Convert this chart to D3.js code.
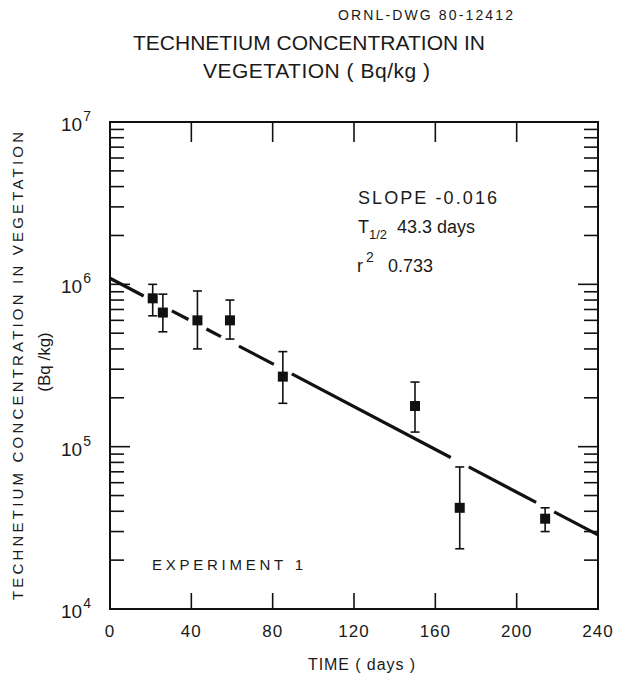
<!DOCTYPE html>
<html>
<head>
<meta charset="utf-8">
<script src="https://cdn.jsdelivr.net/npm/d3@7"></script>
<style>
  body { margin: 0; background: #fff; }
  text { font-family: "Liberation Sans", Arial, sans-serif; fill: #1a1a1a; }
</style>
</head>
<body>
<div id="chart"></div>
<script>
// measured points (days, Bq/kg) with error bar limits
const days = [21, 26, 43, 59, 85, 150, 172, 214];
const conc = [8.2e5, 6.7e5, 6.0e5, 6.0e5, 2.7e5, 1.78e5, 4.2e4, 3.6e4];
const errHigh = [1.0e6, 8.7e5, 9.1e5, 8.0e5, 3.85e5, 2.5e5, 7.5e4, 4.2e4];
const errLow = [6.4e5, 5.1e5, 4.0e5, 4.6e5, 1.85e5, 1.23e5, 2.35e4, 3.0e4];

// fitted line end points
const fitDays = [0, 240];
const fitConc = [1.09e6, 2.86e4];

const xTicks = [0, 40, 80, 120, 160, 200, 240];
const yDecades = [4, 5, 6, 7];

const width = 619, height = 678;
const marginLeft = 110, marginRight = 21, marginTop = 122, marginBottom = 69;

const svg = d3.select("#chart").append("svg")
    .attr("width", width)
    .attr("height", height)
    .attr("viewBox", [0, 0, width, height]);

const x = d3.scaleLinear([0, 240], [marginLeft, width - marginRight]);
const y = d3.scaleLog([1e4, 1e7], [height - marginBottom, marginTop]);

const minor = y.ticks().filter(v => Math.abs(Math.log10(v) % 1) > 1e-6);
const major = yDecades.map(e => Math.pow(10, e));

// frame
svg.append("rect")
    .attr("x", x(0)).attr("y", y(1e7))
    .attr("width", x(240) - x(0)).attr("height", y(1e4) - y(1e7))
    .attr("fill", "none").attr("stroke", "#111").attr("stroke-width", 2);

// left & right y ticks (inward)
const ticksG = svg.append("g").attr("stroke", "#111").attr("stroke-width", 1.6);
[[x(0), 1], [x(240), -1]].forEach(([x0, dir]) => {
  ticksG.selectAll(null)
    .data(minor)
    .join("line")
    .attr("x1", x0).attr("x2", x0 + dir * 14)
    .attr("y1", d => y(d)).attr("y2", d => y(d));
  ticksG.selectAll(null)
    .data([1e5, 1e6])
    .join("line")
    .attr("x1", x0).attr("x2", x0 + dir * 20)
    .attr("y1", d => y(d)).attr("y2", d => y(d));
});

// bottom (up) and top (down) x ticks
const inner = xTicks.slice(1, -1);
ticksG.selectAll(null).data(inner).join("line")
    .attr("x1", d => x(d)).attr("x2", d => x(d))
    .attr("y1", y(1e4)).attr("y2", y(1e4) - 16);
ticksG.selectAll(null).data(inner).join("line")
    .attr("x1", d => x(d)).attr("x2", d => x(d))
    .attr("y1", y(1e7)).attr("y2", y(1e7) + 20);

// x tick labels
svg.append("g")
  .selectAll("text")
  .data(xTicks)
  .join("text")
    .attr("x", d => x(d))
    .attr("y", 637)
    .attr("text-anchor", "middle")
    .attr("font-size", 17)
    .attr("letter-spacing", 1)
    .text(d => d);

// y tick labels 10^n
const yl = svg.append("g")
  .selectAll("text")
  .data(major)
  .join("text")
    .attr("x", 61)
    .attr("y", d => y(d) + 9)
    .attr("font-size", 19);
yl.append("tspan").text("10");
yl.append("tspan")
    .attr("dy", -10)
    .attr("dx", 1)
    .attr("font-size", 14)
    .text(d => Math.round(Math.log10(d)));

// fitted line, broken where it crosses the error bars
const fx0 = x(fitDays[0]), fy0 = y(fitConc[0]), fx1 = x(fitDays[1]), fy1 = y(fitConc[1]);
const lineY = px => fy0 + (px - fx0) * (fy1 - fy0) / (fx1 - fx0);
const gaps = [];
days.forEach((d, i) => {
  const px = x(d), ly = lineY(px);
  if (ly >= y(errHigh[i]) - 5.5 && ly <= y(errLow[i]) + 5.5) gaps.push([px - 9, px + 9]);
});
const segs = [];
let start = fx0;
gaps.sort((a, b) => a[0] - b[0]).forEach(([a, b]) => {
  if (a > start) segs.push([start, a]);
  start = Math.max(start, b);
});
if (start < fx1) segs.push([start, fx1]);

svg.append("g")
  .selectAll("line")
  .data(segs)
  .join("line")
    .attr("x1", d => d[0]).attr("y1", d => lineY(d[0]))
    .attr("x2", d => d[1]).attr("y2", d => lineY(d[1]))
    .attr("stroke", "#111")
    .attr("stroke-width", 3.2);

// error bars
const eb = svg.append("g").attr("stroke", "#111").attr("stroke-width", 1.6);
eb.selectAll(null).data(days).join("line")
    .attr("x1", d => x(d)).attr("x2", d => x(d))
    .attr("y1", (d, i) => y(errHigh[i])).attr("y2", (d, i) => y(errLow[i]));
eb.selectAll(null).data(days).join("line")
    .attr("x1", d => x(d) - 4.5).attr("x2", d => x(d) + 4.5)
    .attr("y1", (d, i) => y(errHigh[i])).attr("y2", (d, i) => y(errHigh[i]));
eb.selectAll(null).data(days).join("line")
    .attr("x1", d => x(d) - 4.5).attr("x2", d => x(d) + 4.5)
    .attr("y1", (d, i) => y(errLow[i])).attr("y2", (d, i) => y(errLow[i]));

// markers
svg.append("g")
  .selectAll("rect")
  .data(days)
  .join("rect")
    .attr("x", d => x(d) - 5)
    .attr("y", (d, i) => y(conc[i]) - 5)
    .attr("width", 10)
    .attr("height", 10)
    .attr("fill", "#111");

// titles
svg.append("text")
    .attr("x", 338).attr("y", 20)
    .attr("font-size", 14)
    .attr("textLength", 175).attr("lengthAdjust", "spacing")
    .text("ORNL-DWG 80-12412");
svg.append("text")
    .attr("x", 133).attr("y", 50)
    .attr("font-size", 21)
    .attr("textLength", 352).attr("lengthAdjust", "spacing")
    .text("TECHNETIUM CONCENTRATION IN");
svg.append("text")
    .attr("x", 203).attr("y", 78)
    .attr("font-size", 21)
    .attr("textLength", 227).attr("lengthAdjust", "spacing")
    .text("VEGETATION ( Bq/kg )");

// y axis title
svg.append("text")
    .attr("transform", "translate(23,600) rotate(-90)")
    .attr("font-size", 15)
    .attr("textLength", 468).attr("lengthAdjust", "spacing")
    .text("TECHNETIUM CONCENTRATION IN VEGETATION");
svg.append("text")
    .attr("transform", "translate(50,362) rotate(-90)")
    .attr("text-anchor", "middle")
    .attr("font-size", 17)
    .text("(Bq /kg)");

// x axis title
svg.append("text")
    .attr("x", 308).attr("y", 670)
    .attr("font-size", 16)
    .attr("textLength", 107).attr("lengthAdjust", "spacing")
    .text("TIME ( days )");

// annotations
svg.append("text")
    .attr("x", 358).attr("y", 204)
    .attr("font-size", 18)
    .attr("textLength", 139).attr("lengthAdjust", "spacing")
    .text("SLOPE -0.016");
const t = svg.append("text").attr("x", 358).attr("y", 233).attr("font-size", 18);
t.append("tspan").text("T");
t.append("tspan").attr("dy", 6).attr("font-size", 13).text("1/2");
t.append("tspan").attr("x", 397).attr("dy", -6).text("43.3 days");
const r = svg.append("text").attr("x", 357).attr("y", 272).attr("font-size", 18);
r.append("tspan").text("r");
r.append("tspan").attr("dy", -10).attr("dx", 3).attr("font-size", 14).text("2");
r.append("tspan").attr("x", 388).attr("dy", 10).text("0.733");

svg.append("text")
    .attr("x", 152).attr("y", 570)
    .attr("font-size", 15)
    .attr("textLength", 151).attr("lengthAdjust", "spacing")
    .text("EXPERIMENT 1");
</script>
</body>
</html>
